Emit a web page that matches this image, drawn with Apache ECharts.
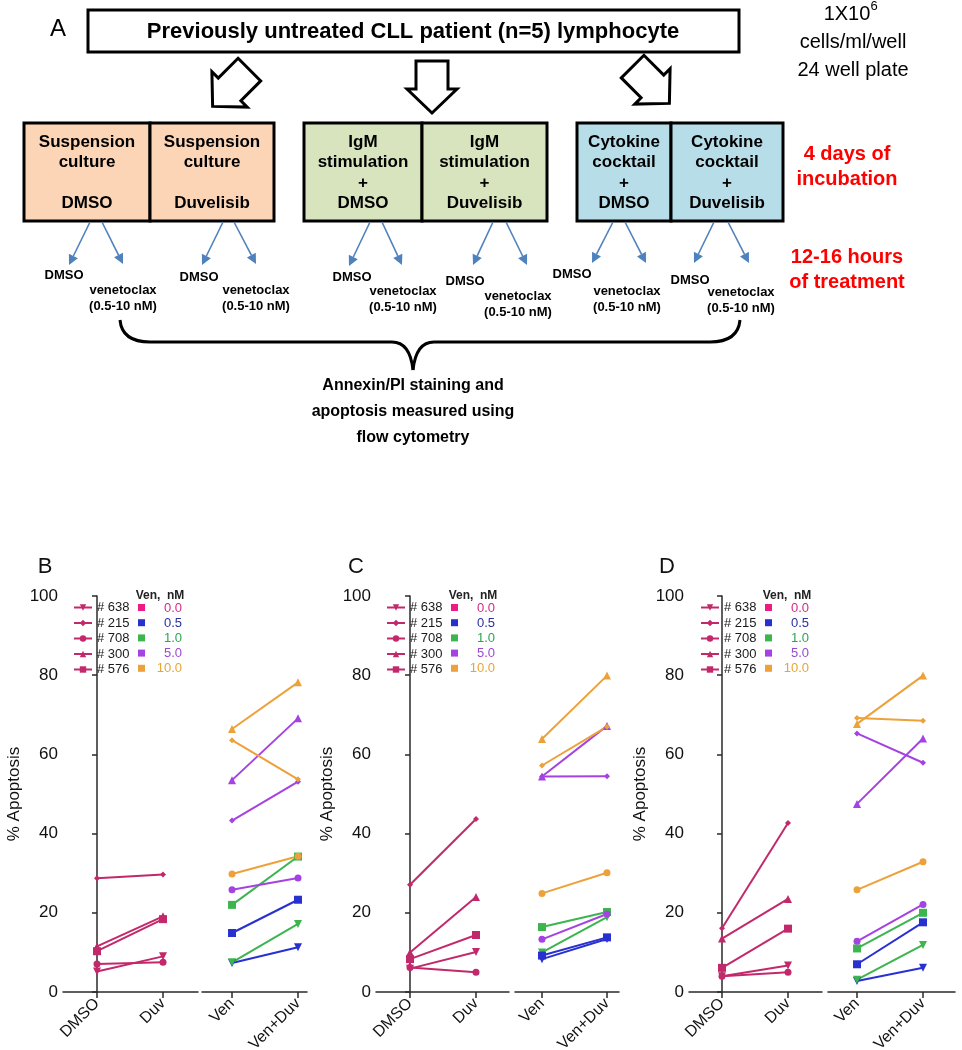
<!DOCTYPE html>
<html><head><meta charset="utf-8">
<script src="https://cdn.jsdelivr.net/npm/echarts@6/dist/echarts.min.js"></script>
<style>html,body{margin:0;padding:0;background:#fff}#c{width:962px;height:1050px}</style>
</head><body><div id="c"></div>
<script>
// ---------- data ----------
const conditions = ['DMSO', 'Duv'];
const venConditions = ['Ven', 'Ven+Duv'];
const patients = ['# 638', '# 215', '# 708', '# 300', '# 576'];
const venDoses = ['0.0', '0.5', '1.0', '5.0', '10.0'];
const yTicks = [0, 20, 40, 60, 80, 100];

// Panel B (patients in order of `patients`)
const bDmso = [5.2, 28.7, 7.1, 11.5, 10.3];
const bDuv = [9.0, 29.7, 7.5, 19.1, 18.4];
// venetoclax lines: patient + dose for each line
const venLinePatient = ['# 638', '# 638', '# 576', '# 576', '# 300', '# 300', '# 215', '# 215', '# 708', '# 708'];
const venLineDose = ['0.5', '1.0', '0.5', '1.0', '5.0', '10.0', '5.0', '10.0', '5.0', '10.0'];
const bVen = [7.3, 7.5, 14.9, 22.0, 53.5, 66.4, 43.3, 63.6, 25.8, 29.8];
const bVenDuv = [11.3, 17.2, 23.3, 34.2, 69.1, 78.2, 53.1, 53.7, 28.8, 34.3];
// Panel C
const cDmso = [5.9, 27.1, 6.2, 10.0, 8.3];
const cDuv = [10.1, 43.7, 5.0, 24.0, 14.4];
const cVen = [8.3, 10.0, 9.2, 16.4, 54.4, 63.9, 54.4, 57.2, 13.3, 24.9];
const cVenDuv = [13.4, 18.9, 13.8, 20.2, 67.2, 79.9, 54.5, 67.0, 19.7, 30.1];
// Panel D
const dDmso = [4.0, 16.1, 4.0, 13.5, 6.1];
const dDuv = [6.7, 42.7, 5.0, 23.5, 16.0];
const dVen = [2.8, 3.1, 7.0, 11.0, 47.5, 67.7, 65.3, 69.2, 12.8, 25.8];
const dVenDuv = [6.1, 11.9, 17.6, 20.0, 64.0, 79.9, 57.9, 68.5, 22.1, 32.9];

// ---------- styles ----------
const FONT = 'Liberation Sans, Arial, Helvetica, sans-serif';
const patientColor = '#c2296b';
const doseColors = { '0.0': '#ee1b84', '0.5': '#2830d0', '1.0': '#3cb54e', '5.0': '#a442e2', '10.0': '#eda13a' };
const doseTextColors = { '0.0': '#d42a82', '0.5': '#2b2f9e', '1.0': '#2ba555', '5.0': '#9a4ad2', '10.0': '#e6a634' };
const patientSymbol = {
  '# 638': { symbol: 'triangle', rotate: 180, size: 8 },
  '# 215': { symbol: 'diamond', rotate: 0, size: 6 },
  '# 708': { symbol: 'circle', rotate: 0, size: 7 },
  '# 300': { symbol: 'triangle', rotate: 0, size: 8 },
  '# 576': { symbol: 'rect', rotate: 0, size: 8 }
};

const panels = [
  { label: 'B', dmso: bDmso, duv: bDuv, ven: bVen, venDuv: bVenDuv, labelX: 45,
    left: { x: 63, w: 135, min: -0.515, max: 1.53 }, right: { x: 202, w: 105, min: -0.455, max: 1.136 }, legendX: 73 },
  { label: 'C', dmso: cDmso, duv: cDuv, ven: cVen, venDuv: cVenDuv, labelX: 356,
    left: { x: 376, w: 133, min: -0.515, max: 1.5 }, right: { x: 515, w: 104, min: -0.415, max: 1.185 }, legendX: 386 },
  { label: 'D', dmso: dDmso, duv: dDuv, ven: dVen, venDuv: dVenDuv, labelX: 667,
    left: { x: 689, w: 133, min: -0.5, max: 1.515 }, right: { x: 828, w: 127, min: -0.44, max: 1.485 }, legendX: 700 }
];

const GRID_TOP = 596, GRID_H = 396;
const grid = [], xAxis = [], yAxis = [], series = [], legend = [], graphic = [];

const axisLineStyle = { color: '#2a2a2a', width: 1.5 };

panels.forEach((p, i) => {
  [p.left, p.right].forEach((g, k) => {
    const cats = k === 0 ? conditions : venConditions;
    grid.push({ left: g.x, width: g.w, top: GRID_TOP, height: GRID_H, containLabel: false, outerBoundsMode: 'none' });
    xAxis.push({
      type: 'value', gridIndex: 2 * i + k, min: g.min, max: g.max,
      axisLine: { show: true, onZero: false, lineStyle: axisLineStyle },
      axisTick: { show: true, length: 6, customValues: [0, 1], lineStyle: axisLineStyle },
      axisLabel: { customValues: [0, 1], formatter: v => cats[Math.round(v)], rotate: 45, fontSize: 16,
        color: '#111', margin: 9, fontFamily: FONT },
      splitLine: { show: false }
    });
    yAxis.push({
      type: 'value', gridIndex: 2 * i + k, min: 0, max: 100, interval: 20, show: k === 0,
      axisLine: { show: true, lineStyle: axisLineStyle },
      axisTick: { show: true, length: 5, lineStyle: axisLineStyle },
      axisLabel: { fontSize: 17, color: '#111', margin: 5, fontFamily: FONT,
        formatter: v => yTicks.includes(v) ? String(v) : '' },
      splitLine: { show: false },
      name: '% Apoptosis', nameLocation: 'middle', nameGap: 40,
      nameTextStyle: { fontSize: 17, color: '#111', fontFamily: FONT }
    });
  });

  // patient lines DMSO / Duv
  patients.forEach((pt, j) => {
    const s = patientSymbol[pt];
    series.push({
      type: 'line', name: pt, xAxisIndex: 2 * i, yAxisIndex: 2 * i,
      data: [[0, p.dmso[j]], [1, p.duv[j]]],
      symbol: s.symbol, symbolSize: s.size, symbolRotate: s.rotate,
      itemStyle: { color: patientColor }, lineStyle: { color: patientColor, width: 2 },
      animation: false, silent: true
    });
  });
  // venetoclax lines
  venLinePatient.forEach((pt, j) => {
    const s = patientSymbol[pt];
    const col = doseColors[venLineDose[j]];
    series.push({
      type: 'line', name: p.label + ' ' + pt + ' ' + venLineDose[j], xAxisIndex: 2 * i + 1, yAxisIndex: 2 * i + 1,
      data: [[0, p.ven[j]], [1, p.venDuv[j]]],
      symbol: s.symbol, symbolSize: s.size, symbolRotate: s.rotate,
      itemStyle: { color: col }, lineStyle: { color: col, width: 2 },
      animation: false, silent: true
    });
  });

  legend.push({
    orient: 'vertical', left: p.legendX, top: 601, data: patients, selectedMode: false, padding: 0,
    itemWidth: 18, itemHeight: 8, itemGap: 2.5,
    textStyle: { fontSize: 13, color: '#1a1a1a', fontFamily: FONT }
  });

  // Ven, nM legend
  graphic.push({ type: 'text', x: p.legendX + 87, y: 596, style: { text: 'Ven,  nM', fontSize: 12, fontWeight: 'bold',
    fill: '#222', align: 'center', verticalAlign: 'middle', fontFamily: FONT } });
  venDoses.forEach((d, k) => {
    const yy = 608 + 15.2 * k;
    graphic.push({ type: 'rect', shape: { x: p.legendX + 65, y: yy - 4, width: 7, height: 7 }, style: { fill: doseColors[d] } });
    graphic.push({ type: 'text', x: p.legendX + 109, y: yy, style: { text: d, fontSize: 13, fill: doseTextColors[d],
      align: 'right', verticalAlign: 'middle', fontFamily: FONT } });
  });

  graphic.push({ type: 'text', x: p.labelX, y: 567, style: { text: p.label, fontSize: 22, fill: '#111',
    align: 'center', verticalAlign: 'middle', fontFamily: FONT } });
});

// ---------- panel A diagram ----------
function txt(x, y, text, size, bold, color) {
  return { type: 'text', x, y, style: { text, fontSize: size, fontWeight: bold ? 'bold' : 'normal',
    fill: color || '#000', align: 'center', verticalAlign: 'middle', fontFamily: FONT } };
}
function blueArrow(x1, y1, x2, y2) {
  const dx = x2 - x1, dy = y2 - y1, L = Math.hypot(dx, dy), ux = dx / L, uy = dy / L;
  const hl = 10, hw = 5;
  const bx = x2 - ux * hl, by = y2 - uy * hl;
  return [
    { type: 'line', shape: { x1, y1, x2: bx, y2: by }, style: { stroke: '#4f81bd', lineWidth: 1.6 } },
    { type: 'polygon', shape: { points: [[x2, y2], [bx - uy * hw, by + ux * hw], [bx + uy * hw, by - ux * hw]] },
      style: { fill: '#4f81bd' } }
  ];
}
const blockArrowPts = [[-16, -26], [16, -26], [16, 2], [25, 2], [0, 26], [-25, 2], [-16, 2]];
function blockArrow(x, y, rot) {
  return { type: 'polygon', x, y, rotation: rot, shape: { points: blockArrowPts },
    style: { fill: '#fff', stroke: '#000', lineWidth: 3, lineJoin: 'miter' } };
}

graphic.push(txt(58, 29, 'A', 24, false));
graphic.push({ type: 'rect', shape: { x: 88, y: 10, width: 651, height: 42 }, style: { fill: '#fff', stroke: '#000', lineWidth: 3 } });
graphic.push(txt(413, 32, 'Previously untreated CLL patient (n=5) lymphocyte', 22, true));
graphic.push(txt(847, 14, '1X10', 20, false));
graphic.push(txt(874, 6, '6', 13, false));
graphic.push(txt(853, 42, 'cells/ml/well', 20, false));
graphic.push(txt(853, 70, '24 well plate', 20, false));

graphic.push(blockArrow(231, 88, -Math.PI / 4));
graphic.push(blockArrow(432, 87, 0));
graphic.push(blockArrow(651, 85, Math.PI / 4));

const boxes = [
  { x: 24, w: 126, fill: '#fbd5b5', lines: ['Suspension', 'culture', '', 'DMSO'] },
  { x: 150, w: 124, fill: '#fbd5b5', lines: ['Suspension', 'culture', '', 'Duvelisib'] },
  { x: 304, w: 118, fill: '#d7e4bd', lines: ['IgM', 'stimulation', '+', 'DMSO'] },
  { x: 422, w: 125, fill: '#d7e4bd', lines: ['IgM', 'stimulation', '+', 'Duvelisib'] },
  { x: 577, w: 94, fill: '#b7dde8', lines: ['Cytokine', 'cocktail', '+', 'DMSO'] },
  { x: 671, w: 112, fill: '#b7dde8', lines: ['Cytokine', 'cocktail', '+', 'Duvelisib'] }
];
boxes.forEach(b => {
  graphic.push({ type: 'rect', shape: { x: b.x, y: 123, width: b.w, height: 98 }, style: { fill: b.fill, stroke: '#000', lineWidth: 3 } });
  [142, 162.5, 183, 203].forEach((yy, k) => { if (b.lines[k]) graphic.push(txt(b.x + b.w / 2, yy, b.lines[k], 17, true)); });
});
graphic.push(txt(847, 154, '4 days of', 20, true, '#ff0000'));
graphic.push(txt(847, 179, 'incubation', 20, true, '#ff0000'));
graphic.push(txt(847, 257, '12-16 hours', 20, true, '#ff0000'));
graphic.push(txt(847, 282, 'of treatment', 20, true, '#ff0000'));

const subs = [
  { a1: [90, 222, 69, 265], a2: [102, 222, 123, 264], d: [64, 275], v: [123, 290] },
  { a1: [223, 222, 202, 265], a2: [234, 222, 256, 264], d: [199, 277], v: [256, 290] },
  { a1: [370, 222, 349, 266], a2: [382, 222, 402, 265], d: [352, 277], v: [403, 291] },
  { a1: [493, 222, 473, 265], a2: [506, 222, 527, 265], d: [465, 281], v: [518, 296] },
  { a1: [613, 222, 592, 263], a2: [625, 222, 646, 263], d: [572, 274], v: [627, 291] },
  { a1: [714, 222, 694, 263], a2: [728, 222, 749, 263], d: [690, 280], v: [741, 292] }
];
subs.forEach(s => {
  graphic.push(...blueArrow(...s.a1));
  graphic.push(...blueArrow(...s.a2));
  graphic.push(txt(s.d[0], s.d[1], 'DMSO', 13, true));
  graphic.push(txt(s.v[0], s.v[1], 'venetoclax', 13, true));
  graphic.push(txt(s.v[0], s.v[1] + 16, '(0.5-10 nM)', 13, true));
});

// curly brace
const braceStyle = { fill: null, stroke: '#000', lineWidth: 3 };
graphic.push({ type: 'bezierCurve', shape: { x1: 120, y1: 320, cpx1: 122, cpy1: 342, x2: 150, y2: 342 }, style: braceStyle });
graphic.push({ type: 'line', shape: { x1: 150, y1: 342, x2: 392, y2: 342 }, style: braceStyle });
graphic.push({ type: 'bezierCurve', shape: { x1: 392, y1: 342, cpx1: 410, cpy1: 342, x2: 413, y2: 370 }, style: braceStyle });
graphic.push({ type: 'bezierCurve', shape: { x1: 413, y1: 370, cpx1: 416, cpy1: 342, x2: 434, y2: 342 }, style: braceStyle });
graphic.push({ type: 'line', shape: { x1: 434, y1: 342, x2: 710, y2: 342 }, style: braceStyle });
graphic.push({ type: 'bezierCurve', shape: { x1: 710, y1: 342, cpx1: 738, cpy1: 342, x2: 740, y2: 320 }, style: braceStyle });
graphic.push(txt(413, 386, 'Annexin/PI staining and', 16, true));
graphic.push(txt(413, 412, 'apoptosis measured using', 16, true));
graphic.push(txt(413, 438, 'flow cytometry', 16, true));

const chart = echarts.init(document.getElementById('c'), null, { renderer: 'canvas' });
chart.setOption({
  backgroundColor: '#fff', animation: false,
  grid, xAxis, yAxis, series, legend, graphic
});
</script>
</body></html>
